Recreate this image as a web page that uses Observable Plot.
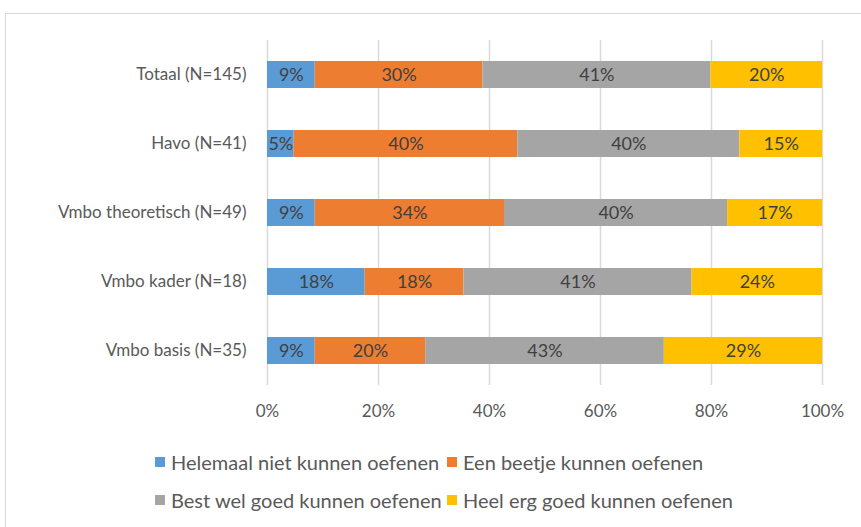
<!DOCTYPE html>
<html>
<head>
<meta charset="utf-8">
<script src="https://cdn.jsdelivr.net/npm/d3@7"></script>
<script src="https://cdn.jsdelivr.net/npm/@observablehq/plot@0.6"></script>
<style>
  html, body { margin: 0; padding: 0; background: #fff; overflow: hidden; }
  body { width: 861px; height: 527px; position: relative; font-family: Lato, "Open Sans", sans-serif; }
  #frame { position: absolute; left: 5px; top: 13px; width: 880px; height: 540px; border: 1.5px solid #d9d9d9; box-sizing: border-box; }
  #chart { position: absolute; left: 0; top: 0; }
  #legend { position: absolute; left: 0; top: 0; width: 861px; }
  .item { position: absolute; display: flex; align-items: center; font-size: 20px; line-height: 24px; color: #595959; white-space: nowrap; }
  .sw { width: 10px; height: 10px; margin-right: 6px; }
</style>
</head>
<body>
<div id="frame"></div>
<div id="chart"></div>
<div id="legend"></div>
<script>
const categories = ["Totaal (N=145)", "Havo (N=41)", "Vmbo theoretisch (N=49)", "Vmbo kader (N=18)", "Vmbo basis (N=35)"];
const seriesNames = ["Helemaal niet kunnen oefenen", "Een beetje kunnen oefenen", "Best wel goed kunnen oefenen", "Heel erg goed kunnen oefenen"];
const seriesColors = ["#5B9BD5", "#ED7D31", "#A5A5A5", "#FFC000"];
// percentages per series, in category order
const helemaalNiet = [8.6, 4.8, 8.6, 17.6, 8.6];
const eenBeetje    = [30.2, 40.3, 34.1, 17.8, 19.9];
const bestWelGoed  = [41.1, 40.0, 40.2, 41.1, 43.0];
const heelErgGoed  = [20.1, 14.9, 17.1, 23.5, 28.5];
const xTicks = [0, 20, 40, 60, 80, 100];

const seriesValues = [helemaalNiet, eenBeetje, bestWelGoed, heelErgGoed];
const data = [];
seriesNames.forEach((s, si) => categories.forEach((c, ci) => data.push({cat: c, series: s, si, value: seriesValues[si][ci]})));

const fontFamily = "Lato, 'Open Sans', sans-serif";
const chart = Plot.plot({
  width: 861,
  height: 430,
  marginLeft: 267,
  marginRight: 39,
  marginTop: 40,
  marginBottom: 45,
  style: {fontFamily, fontSize: "17px", color: "#595959", background: "transparent"},
  x: {domain: [0, 100], ticks: xTicks, tickFormat: d => d + "%", tickSize: 0, tickPadding: 20, label: null, grid: false},
  y: {domain: categories, paddingInner: 0.61, paddingOuter: 0.305, tickSize: 0, tickPadding: 20, label: null},
  color: {domain: seriesNames, range: seriesColors},
  marks: [
    Plot.gridX(xTicks, {stroke: "#d9d9d9", strokeOpacity: 1, strokeWidth: 1.5}),
    Plot.barX(data, Plot.stackX({x: "value", y: "cat", fill: "series", z: "series", order: seriesNames})),
    Plot.textX(data, Plot.stackX({x: "value", y: "cat", z: "series", order: seriesNames, text: d => Math.round(d.value) + "%", fill: "#404040", fontSize: 18})),
    Plot.axisX(xTicks, {tickSize: 0, tickPadding: 19, tickFormat: d => d + "%", label: null, fill: "#595959", fontSize: 17}),
    Plot.axisY({tickSize: 0, tickPadding: 21, label: null, fill: "#595959", fontSize: 17})
  ]
});
document.getElementById("chart").appendChild(chart);

const legend = document.getElementById("legend");
const legendCols = [155, 447];
const legendRows = [462, 500];
seriesNames.forEach((s, i) => {
  const el = document.createElement("div");
  el.className = "item";
  el.style.left = legendCols[i % 2] + "px";
  el.style.top = (legendRows[Math.floor(i / 2)] - 12) + "px";
  el.innerHTML = `<span class="sw" style="background:${seriesColors[i]}"></span><span>${s}</span>`;
  legend.appendChild(el);
});
</script>
</body>
</html>
